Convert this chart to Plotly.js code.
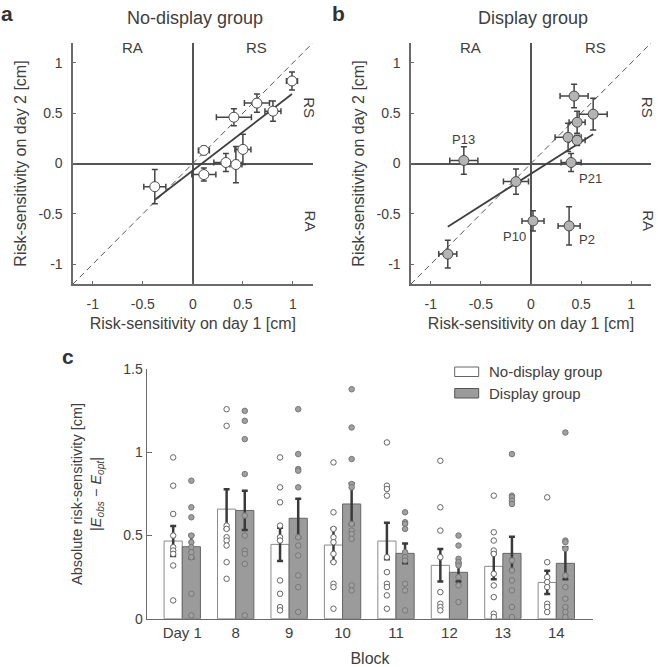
<!DOCTYPE html>
<html>
<head>
<meta charset="utf-8">
<script src="https://cdn.plot.ly/plotly-3.0.1.min.js"></script>
<style>
  html, body { margin: 0; padding: 0; background: #fff; }
  #fig { width: 658px; height: 667px; }
</style>
</head>
<body>
<div id="fig"></div>
<script>
// panel a: no-display group, risk-sensitivity day 1 vs day 2 [cm]
const ndDay1    = [0.99, 0.64, 0.80, 0.41, 0.50, 0.11, 0.33, 0.43, 0.11, -0.38];
const ndDay2    = [0.82, 0.60, 0.52, 0.46, 0.14, 0.13, 0.01, -0.01, -0.11, -0.23];
const ndDay1Err = [0.055, 0.125, 0.08, 0.175, 0.08, 0.055, 0.12, 0.06, 0.12, 0.11];
const ndDay2Err = [0.09, 0.09, 0.10, 0.085, 0.15, 0.04, 0.09, 0.18, 0.065, 0.17];

// panel b: display group
const dDay1    = [0.43, 0.62, 0.46, 0.37, 0.46, 0.40, -0.67, -0.15, 0.02, 0.38, -0.83];
const dDay2    = [0.67, 0.49, 0.41, 0.26, 0.23, 0.01, 0.03, -0.18, -0.57, -0.62, -0.90];
const dDay1Err = [0.14, 0.14, 0.08, 0.13, 0.08, 0.10, 0.14, 0.125, 0.11, 0.11, 0.09];
const dDay2Err = [0.117, 0.157, 0.11, 0.14, 0.05, 0.09, 0.137, 0.125, 0.10, 0.19, 0.137];
const dNames   = ['', '', '', '', '', 'P21', 'P13', '', 'P10', 'P2', ''];

const scatTicks = [-1, -0.5, 0, 0.5, 1];
const scatTickText = ['-1', '-0.5', '0', '0.5', '1'];

// panel c: absolute risk-sensitivity per block
const blocks = ['Day 1', '8', '9', '10', '11', '12', '13', '14'];
const ndMean = [0.467, 0.659, 0.447, 0.443, 0.467, 0.321, 0.315, 0.218];
const ndSem  = [0.09, 0.12, 0.10, 0.10, 0.11, 0.098, 0.078, 0.07];
const dMean  = [0.433, 0.651, 0.604, 0.69, 0.393, 0.279, 0.393, 0.333];
const dSem   = [0.07, 0.118, 0.117, 0.124, 0.06, 0.055, 0.10, 0.096];

const ndIndiv = [
  [0.97, 0.80, 0.63, 0.50, 0.43, 0.41, 0.39, 0.32, 0.11],
  [1.26, 1.16, 0.56, 0.54, 0.49, 0.47, 0.44, 0.34, 0.24],
  [0.97, 0.79, 0.70, 0.56, 0.49, 0.47, 0.23, 0.15, 0.07, 0.05],
  [0.94, 0.64, 0.54, 0.49, 0.46, 0.39, 0.34, 0.21, 0.19, 0.06],
  [1.06, 0.80, 0.78, 0.74, 0.37, 0.28, 0.21, 0.19, 0.14, 0.06],
  [0.95, 0.67, 0.53, 0.37, 0.16, 0.09, 0.07, 0.05],
  [0.74, 0.52, 0.47, 0.41, 0.39, 0.27, 0.20, 0.13, 0.03, 0.01],
  [0.73, 0.34, 0.25, 0.22, 0.19, 0.09, 0.07, 0.04]
];
const dIndiv = [
  [0.83, 0.67, 0.61, 0.50, 0.46, 0.43, 0.40, 0.37, 0.15, 0.02],
  [1.25, 1.19, 1.08, 0.87, 0.62, 0.50, 0.41, 0.39, 0.33, 0.02],
  [1.26, 0.99, 0.90, 0.89, 0.79, 0.49, 0.44, 0.38, 0.26, 0.19, 0.04],
  [1.38, 1.15, 0.96, 0.81, 0.79, 0.57, 0.53, 0.51, 0.48, 0.20, 0.17],
  [0.64, 0.58, 0.57, 0.54, 0.40, 0.37, 0.35, 0.21, 0.17, 0.05],
  [0.50, 0.44, 0.36, 0.34, 0.32, 0.25, 0.20, 0.10],
  [0.99, 0.74, 0.73, 0.71, 0.69, 0.35, 0.29, 0.23, 0.17, 0.07, 0.01],
  [1.12, 0.47, 0.46, 0.42, 0.26, 0.19, 0.12, 0.07, 0.04, 0.01]
];

const FONT = 'Liberation Sans, Arial, sans-serif';
const TXT = '#404040';
const AX = '#6a6a6a';
const W = 658, H = 667;
const px = v => v / W;
const py = v => 1 - v / H;

// least squares line over the data range
function fitLine(xs, ys) {
  const n = xs.length;
  const mx = xs.reduce((a, b) => a + b, 0) / n;
  const my = ys.reduce((a, b) => a + b, 0) / n;
  let sxy = 0, sxx = 0;
  for (let i = 0; i < n; i++) {
    sxy += (xs[i] - mx) * (ys[i] - my);
    sxx += (xs[i] - mx) * (xs[i] - mx);
  }
  const k = sxy / sxx, b = my - k * mx;
  const x0 = Math.min(...xs), x1 = Math.max(...xs);
  return { x: [x0, x1], y: [k * x0 + b, k * x1 + b] };
}

function scatterPanel(xs, ys, ex, ey, fill, xa, ya) {
  const f = fitLine(xs, ys);
  return [
    { x: f.x, y: f.y, xaxis: xa, yaxis: ya, mode: 'lines', type: 'scatter',
      line: { color: '#404040', width: 1.8 }, hoverinfo: 'skip', showlegend: false },
    { x: xs, y: ys, xaxis: xa, yaxis: ya, mode: 'markers', type: 'scatter', showlegend: false,
      marker: { size: 10, color: fill, line: { color: '#4a4a4a', width: 1 } },
      error_x: { type: 'data', array: ex, color: '#444', thickness: 1.5, width: 3 },
      error_y: { type: 'data', array: ey, color: '#444', thickness: 1.5, width: 3 } }
  ];
}

const traces = [];
traces.push(...scatterPanel(ndDay1, ndDay2, ndDay1Err, ndDay2Err, '#ffffff', 'x', 'y'));
traces.push(...scatterPanel(dDay1, dDay2, dDay1Err, dDay2Err, '#b4b4b4', 'x2', 'y2'));

const idx = blocks.map((b, i) => i);
const OFF = 0.17;

traces.push({
  type: 'bar', x: idx, y: ndMean, xaxis: 'x3', yaxis: 'y3', showlegend: false,
  marker: { color: '#ffffff', line: { color: '#8a8a8a', width: 1 } },
  error_y: { type: 'data', array: ndSem, color: '#3a3a3a', thickness: 2.5, width: 3 }
});
traces.push({
  type: 'bar', x: idx, y: dMean, xaxis: 'x3', yaxis: 'y3', showlegend: false,
  marker: { color: '#9b9b9b', line: { color: '#666', width: 1 } },
  error_y: { type: 'data', array: dSem, color: '#3a3a3a', thickness: 2.5, width: 3 }
});

function dots(groups, off, fill, edge) {
  const xs = [], ys = [];
  groups.forEach((g, i) => g.forEach(v => { xs.push(i + off); ys.push(v); }));
  return { type: 'scatter', mode: 'markers', x: xs, y: ys, xaxis: 'x3', yaxis: 'y3',
    showlegend: false, marker: { size: 5.5, color: fill, line: { color: edge, width: 1 } } };
}
traces.push(dots(ndIndiv, -OFF, '#ffffff', '#666'));
traces.push(dots(dIndiv, OFF, '#a0a0a0', '#777'));

const scatAxis = (domain, standoff) => ({
  domain: domain, range: [-1.2, 1.2], showgrid: false, zeroline: true,
  zerolinecolor: '#555', zerolinewidth: 2, showline: true, linecolor: AX, linewidth: 1.3,
  ticks: 'inside', ticklen: 3, tickcolor: AX, tickvals: scatTicks, ticktext: scatTickText,
  ticklabelstandoff: standoff,
  tickfont: { size: 14, color: TXT, family: FONT }, fixedrange: true
});

const ax = {
  x: scatAxis([px(72.7), px(313)], 7),
  y: scatAxis([py(284.3), py(42.7)], 6),
  x2: scatAxis([px(410.7), px(651.3)], 7),
  y2: scatAxis([py(284.3), py(42.7)], 6)
};
const xTitle = { text: 'Risk-sensitivity on day 1 [cm]', font: { size: 16, color: TXT, family: FONT }, standoff: 6 };
const yTitle = { text: 'Risk-sensitivity on day 2 [cm]', font: { size: 16, color: TXT, family: FONT }, standoff: 8 };
ax.x.title = xTitle; ax.x2.title = xTitle;
ax.y.title = yTitle; ax.y2.title = yTitle;
ax.x2.anchor = 'y2'; ax.y2.anchor = 'x2';

const shapes = [];
['x', 'x2'].forEach((xr, k) => {
  const yr = k === 0 ? 'y' : 'y2';
  shapes.push({ type: 'line', xref: xr, yref: yr, x0: -1.2, y0: -1.2, x1: 1.2, y1: 1.2,
    line: { color: '#555', width: 1, dash: '6px,4px' }, layer: 'below' });
});

// legend swatches for panel c
shapes.push({ type: 'rect', xref: 'paper', yref: 'paper', x0: px(454.7), x1: px(478.7), y0: py(376.5), y1: py(367),
  fillcolor: '#ffffff', line: { color: '#666', width: 1 } });
shapes.push({ type: 'rect', xref: 'paper', yref: 'paper', x0: px(454.7), x1: px(478.7), y0: py(398), y1: py(388.5),
  fillcolor: '#9b9b9b', line: { color: '#555', width: 1 } });

const ann = [];
const txt = (text, x, y, size, extra) => Object.assign({
  text: text, x: x, y: y, xref: 'paper', yref: 'paper', showarrow: false,
  xanchor: 'center', yanchor: 'middle',
  font: { size: size, color: TXT, family: FONT }
}, extra || {});

const boldFont = { size: 21, color: '#333', family: FONT };
ann.push(txt('<b>a</b>', px(7), py(13), 21, { font: boldFont }));
ann.push(txt('<b>b</b>', px(338), py(13), 21, { font: boldFont }));
ann.push(txt('<b>c</b>', px(68), py(357), 21, { font: boldFont }));
ann.push(txt('No-display group', px(195), py(18), 18));
ann.push(txt('Display group', px(533), py(18), 18));
ann.push(txt('No-display group', px(487), py(371.7), 15, { xanchor: 'left' }));
ann.push(txt('Display group', px(487), py(393.3), 15, { xanchor: 'left' }));

[['x', 'y'], ['x2', 'y2']].forEach(([xr, yr]) => {
  const q = (text, x, y, rot) => ann.push({ text: text, x: x, y: y, xref: xr, yref: yr, showarrow: false,
    xanchor: 'center', yanchor: 'middle',
    textangle: rot || 0, font: { size: 15, color: TXT, family: FONT } });
  q('RA', -0.6, 1.155);
  q('RS', 0.64, 1.155);
  q('RS', 1.17, 0.56, 90);
  q('RA', 1.17, -0.567, 90);
});

const nameShift = { P21: [19, -16], P13: [0, 21], P10: [-19, -16], P2: [18, -14] };
dNames.forEach((n, i) => {
  if (!n) return;
  ann.push({ text: n, x: dDay1[i], y: dDay2[i], xref: 'x2', yref: 'y2', showarrow: false,
    xanchor: 'center', yanchor: 'middle',
    xshift: nameShift[n][0], yshift: nameShift[n][1], font: { size: 13, color: TXT, family: FONT } });
});

const layout = Object.assign({
  width: W, height: H,
  margin: { l: 0, r: 0, t: 0, b: 0 },
  paper_bgcolor: '#fff', plot_bgcolor: 'rgba(0,0,0,0)',
  showlegend: false,
  barmode: 'group', bargap: 0.32, bargroupgap: 0,
  font: { family: FONT, color: TXT },
  shapes: shapes,
  annotations: ann,
  xaxis3: {
    domain: [px(147), px(593)], anchor: 'y3', range: [-0.66, 7.687],
    tickvals: idx, ticktext: blocks, ticks: '', showgrid: false, zeroline: false,
    showline: true, linecolor: AX, linewidth: 1.5,
    tickfont: { size: 15, color: TXT, family: FONT },
    title: { text: 'Block', font: { size: 16, color: TXT, family: FONT }, standoff: 12 }
  },
  yaxis3: {
    domain: [py(618.7), py(369.3)], anchor: 'x3', range: [0, 1.5],
    tickvals: [0, 0.5, 1, 1.5], ticktext: ['0', '0.5', '1', '1.5'],
    ticks: 'inside', ticklen: 5, tickcolor: AX, showgrid: false, zeroline: false,
    showline: true, linecolor: AX, linewidth: 1.5,
    tickfont: { size: 14, color: TXT, family: FONT },
    title: { text: 'Absolute risk-sensitivity [cm]<br>|<i>E</i><sub><i>obs</i></sub> \u2212 <i>E</i><sub><i>opt</i></sub>|',
      font: { size: 14.5, color: TXT, family: FONT }, standoff: 18 }
  }
}, {
  xaxis: ax.x, yaxis: ax.y, xaxis2: ax.x2, yaxis2: ax.y2
});

Plotly.newPlot('fig', traces, layout, { displayModeBar: false, staticPlot: true });
</script>
</body>
</html>
